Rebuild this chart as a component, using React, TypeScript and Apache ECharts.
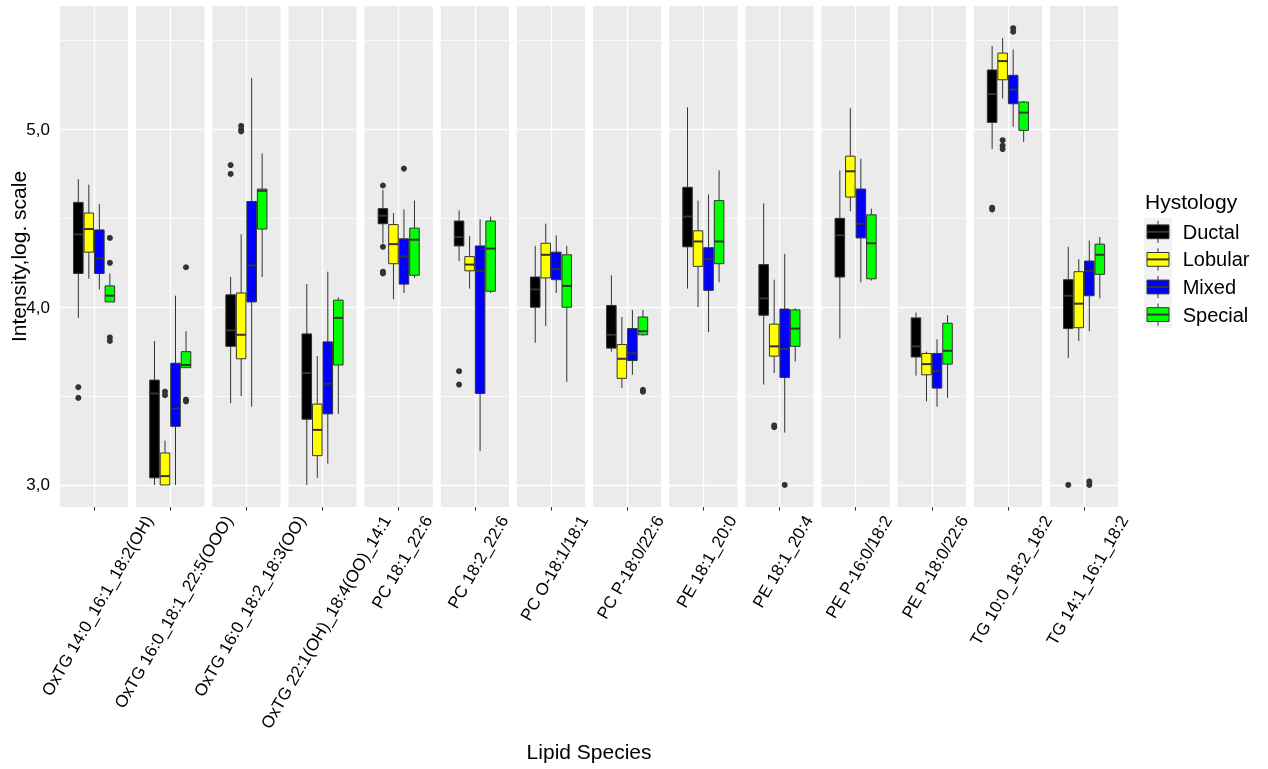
import React, { useEffect, useRef } from 'react';
import * as echarts from 'echarts';

const LIPIDS = [
  'OxTG 14:0_16:1_18:2(OH)',
  'OxTG 16:0_18:1_22:5(OOO)',
  'OxTG 16:0_18:2_18:3(OO)',
  'OxTG 22:1(OH)_18:4(OO)_14:1',
  'PC 18:1_22:6',
  'PC 18:2_22:6',
  'PC O-18:1/18:1',
  'PC P-18:0/22:6',
  'PE 18:1_20:0',
  'PE 18:1_20:4',
  'PE P-16:0/18:2',
  'PE P-18:0/22:6',
  'TG 10:0_18:2_18:2',
  'TG 14:1_16:1_18:2',
];

const GROUPS = ['Ductal', 'Lobular', 'Mixed', 'Special'];
const COLORS = ['#000000', '#FFFF00', '#0000FF', '#00FF00'];

// [lower whisker, Q1, median, Q3, upper whisker] per lipid
const DUCTAL = [
  [3.94, 4.19, 4.41, 4.59, 4.72],
  [3.0, 3.04, 3.515, 3.59, 3.81],
  [3.46, 3.78, 3.87, 4.07, 4.17],
  [3.0, 3.37, 3.63, 3.85, 4.13],
  [4.36, 4.47, 4.515, 4.555, 4.66],
  [4.26, 4.345, 4.395, 4.485, 4.545],
  [3.8, 4.0, 4.1, 4.17, 4.345],
  [3.75, 3.77, 3.845, 4.01, 4.18],
  [4.105, 4.34, 4.51, 4.675, 5.125],
  [3.565, 3.955, 4.05, 4.24, 4.585],
  [3.825, 4.17, 4.405, 4.5, 4.77],
  [3.615, 3.72, 3.78, 3.94, 3.97],
  [4.89, 5.04, 5.2, 5.335, 5.47],
  [3.715, 3.88, 4.065, 4.155, 4.34],
];
const LOBULAR = [
  [4.16, 4.31, 4.44, 4.53, 4.69],
  [3.0, 3.0, 3.05, 3.18, 3.25],
  [3.5, 3.71, 3.845, 4.08, 4.41],
  [3.04, 3.165, 3.31, 3.455, 3.725],
  [4.045, 4.245, 4.355, 4.465, 4.53],
  [4.105, 4.205, 4.24, 4.285, 4.4],
  [3.895, 4.165, 4.295, 4.36, 4.47],
  [3.545, 3.6, 3.71, 3.79, 3.945],
  [4.0, 4.23, 4.37, 4.43, 4.6],
  [3.63, 3.725, 3.78, 3.905, 4.155],
  [4.54, 4.62, 4.765, 4.85, 5.12],
  [3.47, 3.62, 3.68, 3.74, 3.75],
  [5.175, 5.28, 5.385, 5.43, 5.515],
  [3.81, 3.885, 4.02, 4.2, 4.27],
];
const MIXED = [
  [4.1, 4.19, 4.275, 4.435, 4.58],
  [3.0, 3.33, 3.43, 3.685, 4.065],
  [3.44, 4.03, 4.235, 4.595, 5.29],
  [3.12, 3.4, 3.57, 3.805, 4.2],
  [4.08, 4.13, 4.285, 4.385, 4.55],
  [3.19, 3.515, 4.205, 4.345, 4.495],
  [4.08, 4.155, 4.215, 4.31, 4.405],
  [3.62, 3.7, 3.74, 3.88, 3.985],
  [3.86, 4.095, 4.27, 4.335, 4.635],
  [3.295, 3.605, 3.765, 3.99, 4.3],
  [4.14, 4.39, 4.47, 4.665, 4.835],
  [3.44, 3.545, 3.64, 3.74, 3.82],
  [5.015, 5.145, 5.225, 5.305, 5.45],
  [3.865, 4.065, 4.205, 4.26, 4.375],
];
const SPECIAL = [
  [4.03, 4.03, 4.065, 4.12, 4.19],
  [3.66, 3.66, 3.675, 3.75, 3.865],
  [4.17, 4.44, 4.655, 4.665, 4.865],
  [3.4, 3.675, 3.94, 4.04, 4.055],
  [4.165, 4.18, 4.38, 4.445, 4.6],
  [4.08, 4.09, 4.33, 4.485, 4.51],
  [3.58, 4.0, 4.12, 4.295, 4.345],
  [3.84, 3.845, 3.865, 3.945, 3.985],
  [4.14, 4.245, 4.37, 4.6, 4.77],
  [3.695, 3.78, 3.88, 3.985, 3.995],
  [4.15, 4.16, 4.36, 4.52, 4.555],
  [3.49, 3.68, 3.755, 3.91, 3.955],
  [4.93, 4.995, 5.095, 5.155, 5.16],
  [4.05, 4.185, 4.295, 4.355, 4.395],
];

// outliers per lipid
const DUCTAL_OUT = [[3.55, 3.49], [], [4.8, 4.75], [], [4.685, 4.34, 4.2, 4.19], [3.64, 3.565], [], [], [], [], [], [], [4.56, 4.55], [3.0]];
const LOBULAR_OUT = [[], [3.525, 3.505], [5.02, 5.0, 4.99], [], [], [], [], [], [], [3.335, 3.325], [], [], [4.94, 4.91, 4.89], []];
const MIXED_OUT = [[], [], [], [], [4.78], [], [], [], [], [3.0], [], [], [5.57, 5.55], [3.02, 3.0]];
const SPECIAL_OUT = [[4.39, 4.25, 3.83, 3.81], [4.225, 3.48, 3.47], [], [], [], [], [], [3.535, 3.525], [], [], [], [], [], []];

const Y_TICKS = [3, 4, 5];
const Y_MINOR = [3.5, 4.5, 5.5];
const Y_MIN = 2.876;
const Y_MAX = 5.695;

const STATS = [DUCTAL, LOBULAR, MIXED, SPECIAL];
const OUTS = [DUCTAL_OUT, LOBULAR_OUT, MIXED_OUT, SPECIAL_OUT];

const FONT = '"Liberation Sans", Arial, sans-serif';
const PANEL_LEFT = 60;
const PANEL_PITCH = 76.15;
const PANEL_W = 68.2;
const PANEL_TOP = 6;
const PANEL_H = 501;
const SLOT = 0.185;
const BOX_W = 0.168;
const TICK_FS = 17;
const offset = (k: number) => (k - 1.5) * SLOT;

export default function App() {
  const ref = useRef<HTMLDivElement>(null);
  useEffect(() => {
    const chart = echarts.init(ref.current!, null, { renderer: 'svg' });
    const ctx = document.createElement('canvas').getContext('2d')!;
    ctx.font = `${TICK_FS}px "Liberation Sans"`;
    const measure = (s: string) => ctx.measureText(s).width;

    const grids: any[] = [];
    const xAxes: any[] = [];
    const yAxes: any[] = [];
    const series: any[] = [];

    LIPIDS.forEach((name, i) => {
      grids.push({
        left: PANEL_LEFT + i * PANEL_PITCH,
        top: PANEL_TOP,
        width: PANEL_W,
        height: PANEL_H,
        show: true,
        backgroundColor: '#EBEBEB',
        borderWidth: 0,
        containLabel: false,
        outerBoundsMode: 'none',
      });
      xAxes.push({
        type: 'value',
        gridIndex: i,
        min: -0.6,
        max: 0.6,
        axisLine: { show: false, onZero: false },
        splitLine: { show: false },
        axisTick: { show: true, customValues: [0], length: 3.7, lineStyle: { color: '#333333', width: 1 } },
        axisLabel: {
          show: true,
          customValues: [0],
          formatter: () => name,
          rotate: 60,
          align: 'center',
          verticalAlign: 'top',
          lineHeight: 8,
          margin: 8 + 0.433 * measure(name),
          fontSize: TICK_FS,
          fontFamily: FONT,
          color: '#000000',
        },
      });
      yAxes.push({
        type: 'value',
        gridIndex: i,
        min: Y_MIN,
        max: Y_MAX,
        show: i === 0,
        splitLine: { show: false },
        axisLine: { show: false },
        axisTick: { show: i === 0, customValues: Y_TICKS, length: 3.7, lineStyle: { color: '#333333', width: 1 } },
        axisLabel: {
          show: i === 0,
          customValues: Y_TICKS,
          formatter: (v: number) => v.toFixed(1).replace('.', ','),
          margin: 10,
          fontSize: TICK_FS,
          fontFamily: FONT,
          color: '#000000',
        },
        name: i === 0 ? 'Intensity,log. scale' : '',
        nameLocation: 'middle',
        nameRotate: 90,
        nameGap: 31,
        nameMoveOverlap: false,
        nameTextStyle: { fontSize: 21, fontFamily: FONT, color: '#000000' },
      });

      series.push({
        type: 'custom',
        xAxisIndex: i,
        yAxisIndex: i,
        z: 3,
        data: STATS.map((s, k) => [offset(k), ...s[i]]),
        encode: { x: 0, y: [1, 2, 3, 4, 5] },
        renderItem: (params: any, api: any) => {
          const k = params.dataIndex;
          const x = api.value(0);
          const pLow = api.coord([x, api.value(1)]);
          const pQ1 = api.coord([x, api.value(2)]);
          const pMed = api.coord([x, api.value(3)]);
          const pQ3 = api.coord([x, api.value(4)]);
          const pHigh = api.coord([x, api.value(5)]);
          const w = api.size([BOX_W, 0])[0];
          const cx = pQ1[0];
          const ls = { stroke: '#333333', lineWidth: 1 };
          return {
            type: 'group',
            children: [
              { type: 'line', shape: { x1: cx, y1: pHigh[1], x2: cx, y2: pQ3[1] }, style: ls },
              { type: 'line', shape: { x1: cx, y1: pQ1[1], x2: cx, y2: pLow[1] }, style: ls },
              {
                type: 'rect',
                shape: { x: cx - w / 2, y: pQ3[1], width: w, height: Math.max(pQ1[1] - pQ3[1], 0.5) },
                style: { fill: COLORS[k], stroke: '#333333', lineWidth: 1 },
              },
              { type: 'line', shape: { x1: cx - w / 2, y1: pMed[1], x2: cx + w / 2, y2: pMed[1] }, style: { stroke: '#333333', lineWidth: 2 } },
            ],
          };
        },
      });

      const outData: number[][] = [];
      OUTS.forEach((o, k) => o[i].forEach((v) => outData.push([offset(k), v])));
      series.push({
        type: 'scatter',
        xAxisIndex: i,
        yAxisIndex: i,
        z: 4,
        symbol: 'circle',
        symbolSize: 6,
        itemStyle: { color: '#333333', opacity: 1 },
        data: outData,
        silent: true,
        markLine: {
          silent: true,
          symbol: ['none', 'none'],
          z: 1,
          label: { show: false },
          emphasis: { disabled: true },
          data: [
            ...Y_MINOR.map((v) => ({ yAxis: v, lineStyle: { color: '#FFFFFF', width: 0.7, type: 'solid' } })),
            ...Y_TICKS.map((v) => ({ yAxis: v, lineStyle: { color: '#FFFFFF', width: 1.4, type: 'solid' } })),
            { xAxis: 0, lineStyle: { color: '#FFFFFF', width: 1.4, type: 'solid' } },
          ],
        },
      });
    });

    const rowH = 27.6;
    const legendTop = 218;
    const legendX = 1144;
    const graphic: any[] = [
      {
        type: 'text',
        x: PANEL_LEFT + (13 * PANEL_PITCH + PANEL_W) / 2,
        y: 751,
        style: { text: 'Lipid Species', font: `21px ${FONT}`, fill: '#000000', align: 'center', verticalAlign: 'middle' },
      },
      {
        type: 'text',
        x: 1145,
        y: 201,
        style: { text: 'Hystology', font: `21px ${FONT}`, fill: '#000000', align: 'left', verticalAlign: 'middle' },
      },
      ...GROUPS.map((g, k) => ({
        type: 'group',
        x: legendX,
        y: legendTop + k * rowH,
        children: [
          { type: 'rect', shape: { x: 0, y: 0, width: 28, height: rowH }, style: { fill: '#F2F2F2' } },
          { type: 'line', shape: { x1: 14, y1: rowH * 0.1, x2: 14, y2: rowH * 0.9 }, style: { stroke: '#333333', lineWidth: 1 } },
          { type: 'rect', shape: { x: 3, y: rowH * 0.25, width: 22, height: rowH * 0.5 }, style: { fill: COLORS[k], stroke: '#333333', lineWidth: 1 } },
          { type: 'line', shape: { x1: 3, y1: rowH / 2, x2: 25, y2: rowH / 2 }, style: { stroke: '#333333', lineWidth: 2 } },
          { type: 'text', x: 38.7, y: rowH / 2, style: { text: g, font: `20px ${FONT}`, fill: '#000000', verticalAlign: 'middle', align: 'left' } },
        ],
      })),
    ];

    chart.setOption({
      animation: false,
      textStyle: { fontFamily: FONT },
      grid: grids,
      xAxis: xAxes,
      yAxis: yAxes,
      series,
      graphic,
    });
    return () => chart.dispose();
  }, []);
  return <div ref={ref} style={{ position: 'fixed', left: 0, top: 0, width: 1268, height: 769 }} />;
}
